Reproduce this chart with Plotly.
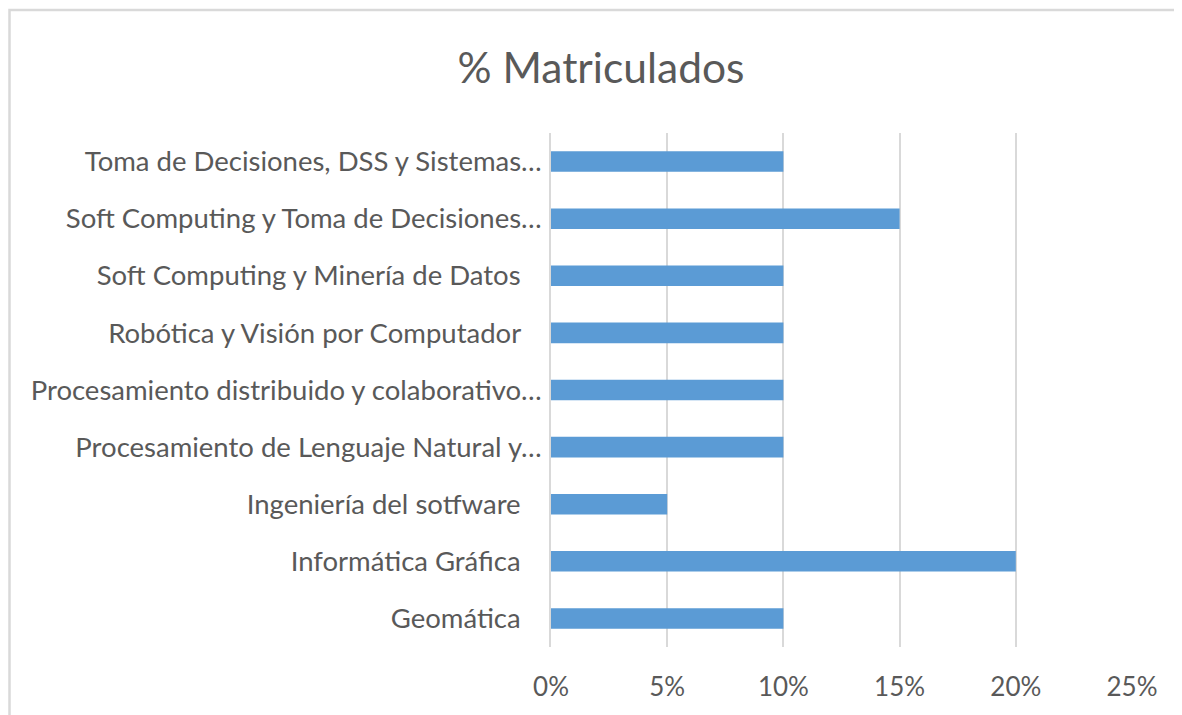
import plotly.graph_objects as go

NB = "\u00a0"
categories = [
    "Geomática" + NB * 3,
    "Informática Gráfica" + NB * 3,
    "Ingeniería del sotfware" + NB * 3,
    "Procesamiento de Lenguaje Natural y…",
    "Procesamiento distribuido y colaborativo…",
    "Robótica y Visión por Computador" + NB * 3,
    "Soft Computing y Minería de Datos" + NB * 3,
    "Soft Computing y Toma de Decisiones…",
    "Toma de Decisiones, DSS y Sistemas…",
]
values = [0.10, 0.20, 0.05, 0.10, 0.10, 0.10, 0.10, 0.15, 0.10]
tick_vals = [0, 0.05, 0.10, 0.15, 0.20, 0.25]
tick_text = ["0%", "5%", "10%", "15%", "20%", "25%"]

FONT = "Lato, 'Open Sans', sans-serif"
GRAY = "#595959"

W, H = 1182, 715
L, R, T, B = 543, 58, 125, 76  # margins
PW = W - L - R
PH = H - T - B

fig = go.Figure(go.Bar(
    x=values, y=categories, orientation="h",
    marker=dict(color="#5B9BD5", line=dict(width=0)),
))

fig.update_layout(
    width=W, height=H,
    margin=dict(l=L, r=R, t=T, b=B),
    paper_bgcolor="white", plot_bgcolor="white",
    bargap=0.64,
    showlegend=False,
    title=dict(text="% Matriculados", x=(601 - 8) / W, xanchor="center",
               y=1 - (68 - 8) / H, yanchor="middle", xref="container", yref="container",
               font=dict(family=FONT, size=42.5, color=GRAY)),
    font=dict(family=FONT, color=GRAY),
    xaxis=dict(
        range=[0, 0.25], tickvals=tick_vals, ticktext=tick_text,
        showgrid=True, gridcolor="#D9D9D9", gridwidth=1.5,
        zeroline=False, showline=False,
        ticks="", ticklabelstandoff=22,
        tickfont=dict(family=FONT, size=26, color=GRAY),
        fixedrange=True,
    ),
    yaxis=dict(
        showgrid=False, zeroline=False,
        showline=True, linecolor="#D9D9D9", linewidth=1.5,
        ticks="", ticklabelstandoff=2,
        tickfont=dict(family=FONT, size=27.5, color=GRAY),
        fixedrange=True,
    ),
    shapes=[dict(type="rect", xref="paper", yref="paper",
                 x0=-(L - 1.5) / PW, x1=1 + (R + 40) / PW,
                 y0=-(B + 40) / PH, y1=1 + (T - 10 + 8) / PH,
                 line=dict(color="#D9D9D9", width=2.5), fillcolor="rgba(0,0,0,0)",
                 layer="below")],
)

fig.write_html("out.html")
